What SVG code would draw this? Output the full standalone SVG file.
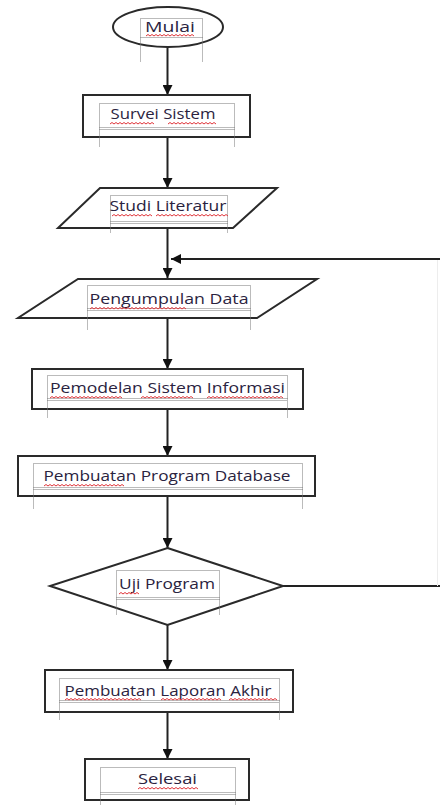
<svg xmlns="http://www.w3.org/2000/svg" width="440" height="805" viewBox="0 0 440 805">
<defs>
<marker id="ah" viewBox="0 0 10 10" refX="10" refY="5" markerWidth="10" markerHeight="10" markerUnits="userSpaceOnUse" orient="auto">
<path d="M0,0 L10,5 L0,10 z" fill="#111"/>
</marker>
<style>
.sh{fill:#fff;stroke:#2a2a2a;stroke-width:2}
.tb{fill:none;stroke:#777;stroke-width:1;stroke-dasharray:1,1}
.t{font-family:"Open Sans","Liberation Sans",Arial,sans-serif;font-size:15px;fill:#2a2340;text-anchor:middle}
.sq{fill:none;stroke:#e0353a;stroke-width:1}
.c{fill:none;stroke:#222;stroke-width:2}
</style>
</defs>
<rect width="440" height="805" fill="#fff"/>
<g id="connectors">
<path class="c" d="M167.5,47 V95" marker-end="url(#ah)"/>
<path class="c" d="M167.5,137 V188" marker-end="url(#ah)"/>
<path class="c" d="M167.5,228 V278" marker-end="url(#ah)"/>
<path class="c" d="M167.5,318 V369" marker-end="url(#ah)"/>
<path class="c" d="M167.5,409 V456" marker-end="url(#ah)"/>
<path class="c" d="M167.5,496 V548" marker-end="url(#ah)"/>
<path class="c" d="M167.5,625 V670" marker-end="url(#ah)"/>
<path class="c" d="M167.5,712 V759" marker-end="url(#ah)"/>
<path class="c" d="M283,586 H440"/>
<line x1="437.5" y1="259" x2="437.5" y2="586" stroke="#ededed" stroke-width="1"/>
<path class="c" d="M440,259 H171" marker-end="url(#ah)"/>
</g>
<g id="mulai">
<ellipse class="sh" cx="168" cy="27" rx="55" ry="20"/>
<path class="tb" d="M140.5,18.5 H202.5 V37.5 H140.5 Z M140.5,37.5 V62 M202.5,37.5 V62"/>
<text class="t" x="170" y="32" textLength="50" lengthAdjust="spacingAndGlyphs">Mulai</text>
<path class="sq" d="M146,36 l2,-1.5 l2,1.5 l2,-1.5 l2,1.5 l2,-1.5 l2,1.5 l2,-1.5 l2,1.5 l2,-1.5 l2,1.5 l2,-1.5 l2,1.5 l2,-1.5 l2,1.5 l2,-1.5 l2,1.5 l2,-1.5 l2,1.5 l2,-1.5 l2,1.5 l2,-1.5 l2,1.5 l2,-1.5 l2,1.5"/>
</g>
<g id="survei">
<rect class="sh" x="83" y="95" width="167" height="42"/>
<path class="tb" d="M99.5,103.5 H234.5 V127.5 H99.5 Z M99.5,129.5 H234.5 M99.5,127.5 V147 M234.5,127.5 V147"/>
<text class="t" x="163" y="119" textLength="105" lengthAdjust="spacingAndGlyphs">Survei Sistem</text>
<path class="sq" d="M110,124 l2,-1.5 l2,1.5 l2,-1.5 l2,1.5 l2,-1.5 l2,1.5 l2,-1.5 l2,1.5 l2,-1.5 l2,1.5 l2,-1.5 l2,1.5 l2,-1.5 l2,1.5 l2,-1.5 l2,1.5 l2,-1.5 l2,1.5 l2,-1.5 l2,1.5 l2,-1.5 l2,1.5 M168,124 l2,-1.5 l2,1.5 l2,-1.5 l2,1.5 l2,-1.5 l2,1.5 l2,-1.5 l2,1.5 l2,-1.5 l2,1.5 l2,-1.5 l2,1.5 l2,-1.5 l2,1.5 l2,-1.5 l2,1.5 l2,-1.5 l2,1.5 l2,-1.5 l2,1.5 l2,-1.5 l2,1.5 l2,-1.5 l2,1.5"/>
</g>
<g id="studi">
<polygon class="sh" points="100,188 277,188 233,228 58,228"/>
<path class="tb" d="M110.5,195.5 H227.5 V221.5 H110.5 Z M110.5,223.5 H227.5 M110.5,221.5 V233 M227.5,221.5 V233"/>
<text class="t" x="168" y="211" textLength="117" lengthAdjust="spacingAndGlyphs">Studi Literatur</text>
<path class="sq" d="M112,216 l2,-1.5 l2,1.5 l2,-1.5 l2,1.5 l2,-1.5 l2,1.5 l2,-1.5 l2,1.5 l2,-1.5 l2,1.5 l2,-1.5 l2,1.5 l2,-1.5 l2,1.5 l2,-1.5 l2,1.5 l2,-1.5 l2,1.5 l2,-1.5 l2,1.5 M156,216 l2,-1.5 l2,1.5 l2,-1.5 l2,1.5 l2,-1.5 l2,1.5 l2,-1.5 l2,1.5 l2,-1.5 l2,1.5 l2,-1.5 l2,1.5 l2,-1.5 l2,1.5 l2,-1.5 l2,1.5 l2,-1.5 l2,1.5 l2,-1.5 l2,1.5 l2,-1.5 l2,1.5 l2,-1.5 l2,1.5 l2,-1.5 l2,1.5 l2,-1.5 l2,1.5 l2,-1.5 l2,1.5 l2,-1.5 l2,1.5 l2,-1.5 l2,1.5 l2,-1.5 l2,1.5"/>
</g>
<g id="pengumpulan">
<polygon class="sh" points="78,279 317,279 257,318 18,318"/>
<path class="tb" d="M87.5,285.5 H250.5 V308.5 H87.5 Z M87.5,310.5 H250.5 M87.5,308.5 V330 M250.5,308.5 V330"/>
<text class="t" x="169" y="304" textLength="159" lengthAdjust="spacingAndGlyphs">Pengumpulan Data</text>
<path class="sq" d="M90,309 l2,-1.5 l2,1.5 l2,-1.5 l2,1.5 l2,-1.5 l2,1.5 l2,-1.5 l2,1.5 l2,-1.5 l2,1.5 l2,-1.5 l2,1.5 l2,-1.5 l2,1.5 l2,-1.5 l2,1.5 l2,-1.5 l2,1.5 l2,-1.5 l2,1.5 l2,-1.5 l2,1.5 l2,-1.5 l2,1.5 l2,-1.5 l2,1.5 l2,-1.5 l2,1.5 l2,-1.5 l2,1.5 l2,-1.5 l2,1.5 l2,-1.5 l2,1.5 l2,-1.5 l2,1.5 l2,-1.5 l2,1.5 l2,-1.5 l2,1.5 l2,-1.5 l2,1.5 l2,-1.5 l2,1.5 l2,-1.5 l2,1.5 l2,-1.5 l2,1.5"/>
</g>
<g id="pemodelan">
<rect class="sh" x="32" y="369" width="271" height="40"/>
<path class="tb" d="M47.5,375.5 H287.5 V398.5 H47.5 Z M47.5,400.5 H287.5 M47.5,398.5 V418 M287.5,398.5 V418"/>
<text class="t" x="167.5" y="393" textLength="235" lengthAdjust="spacingAndGlyphs">Pemodelan Sistem Informasi</text>
<path class="sq" d="M50,398 l2,-1.5 l2,1.5 l2,-1.5 l2,1.5 l2,-1.5 l2,1.5 l2,-1.5 l2,1.5 l2,-1.5 l2,1.5 l2,-1.5 l2,1.5 l2,-1.5 l2,1.5 l2,-1.5 l2,1.5 l2,-1.5 l2,1.5 l2,-1.5 l2,1.5 l2,-1.5 l2,1.5 l2,-1.5 l2,1.5 l2,-1.5 l2,1.5 l2,-1.5 l2,1.5 l2,-1.5 l2,1.5 l2,-1.5 l2,1.5 l2,-1.5 l2,1.5 l2,-1.5 l2,1.5 M141,398 l2,-1.5 l2,1.5 l2,-1.5 l2,1.5 l2,-1.5 l2,1.5 l2,-1.5 l2,1.5 l2,-1.5 l2,1.5 l2,-1.5 l2,1.5 l2,-1.5 l2,1.5 l2,-1.5 l2,1.5 l2,-1.5 l2,1.5 l2,-1.5 l2,1.5 l2,-1.5 l2,1.5 l2,-1.5 l2,1.5 l2,-1.5 l2,1.5 M207,398 l2,-1.5 l2,1.5 l2,-1.5 l2,1.5 l2,-1.5 l2,1.5 l2,-1.5 l2,1.5 l2,-1.5 l2,1.5 l2,-1.5 l2,1.5 l2,-1.5 l2,1.5 l2,-1.5 l2,1.5 l2,-1.5 l2,1.5 l2,-1.5 l2,1.5 l2,-1.5 l2,1.5 l2,-1.5 l2,1.5 l2,-1.5 l2,1.5 l2,-1.5 l2,1.5 l2,-1.5 l2,1.5 l2,-1.5 l2,1.5 l2,-1.5 l2,1.5 l2,-1.5 l2,1.5 l2,-1.5 l2,1.5"/>
</g>
<g id="pembuatan-program">
<rect class="sh" x="18" y="456" width="297" height="40"/>
<path class="tb" d="M33.5,463.5 H302.5 V487.5 H33.5 Z M33.5,489.5 H302.5 M33.5,487.5 V509 M302.5,487.5 V509"/>
<text class="t" x="167" y="481" textLength="247" lengthAdjust="spacingAndGlyphs">Pembuatan Program Database</text>
<path class="sq" d="M44,486 l2,-1.5 l2,1.5 l2,-1.5 l2,1.5 l2,-1.5 l2,1.5 l2,-1.5 l2,1.5 l2,-1.5 l2,1.5 l2,-1.5 l2,1.5 l2,-1.5 l2,1.5 l2,-1.5 l2,1.5 l2,-1.5 l2,1.5 l2,-1.5 l2,1.5 l2,-1.5 l2,1.5 l2,-1.5 l2,1.5 l2,-1.5 l2,1.5 l2,-1.5 l2,1.5 l2,-1.5 l2,1.5 l2,-1.5 l2,1.5 l2,-1.5 l2,1.5 l2,-1.5 l2,1.5 l2,-1.5 l2,1.5 l2,-1.5 l2,1.5"/>
</g>
<g id="uji">
<polygon class="sh" points="167.5,548 283,586 167.5,625 50,586"/>
<path class="tb" d="M116.5,570.5 H219.5 V597.5 H116.5 Z M116.5,599.5 H219.5 M116.5,597.5 V615 M219.5,597.5 V615"/>
<text class="t" x="167" y="589" textLength="96" lengthAdjust="spacingAndGlyphs">Uji Program</text>
<path class="sq" d="M119,594 l2,-1.5 l2,1.5 l2,-1.5 l2,1.5 l2,-1.5 l2,1.5 l2,-1.5 l2,1.5 l2,-1.5 l2,1.5"/>
</g>
<g id="pembuatan-laporan">
<rect class="sh" x="45" y="670" width="248" height="42"/>
<path class="tb" d="M59.5,678.5 H279.5 V700.5 H59.5 Z M59.5,702.5 H279.5 M59.5,700.5 V720 M279.5,700.5 V720"/>
<text class="t" x="168" y="696" textLength="207" lengthAdjust="spacingAndGlyphs">Pembuatan Laporan Akhir</text>
<path class="sq" d="M65,700 l2,-1.5 l2,1.5 l2,-1.5 l2,1.5 l2,-1.5 l2,1.5 l2,-1.5 l2,1.5 l2,-1.5 l2,1.5 l2,-1.5 l2,1.5 l2,-1.5 l2,1.5 l2,-1.5 l2,1.5 l2,-1.5 l2,1.5 l2,-1.5 l2,1.5 l2,-1.5 l2,1.5 l2,-1.5 l2,1.5 l2,-1.5 l2,1.5 l2,-1.5 l2,1.5 l2,-1.5 l2,1.5 l2,-1.5 l2,1.5 l2,-1.5 l2,1.5 l2,-1.5 l2,1.5 l2,-1.5 l2,1.5 M161,700 l2,-1.5 l2,1.5 l2,-1.5 l2,1.5 l2,-1.5 l2,1.5 l2,-1.5 l2,1.5 l2,-1.5 l2,1.5 l2,-1.5 l2,1.5 l2,-1.5 l2,1.5 l2,-1.5 l2,1.5 l2,-1.5 l2,1.5 l2,-1.5 l2,1.5 l2,-1.5 l2,1.5 l2,-1.5 l2,1.5 l2,-1.5 l2,1.5 l2,-1.5 l2,1.5 l2,-1.5 l2,1.5 M229,700 l2,-1.5 l2,1.5 l2,-1.5 l2,1.5 l2,-1.5 l2,1.5 l2,-1.5 l2,1.5 l2,-1.5 l2,1.5 l2,-1.5 l2,1.5 l2,-1.5 l2,1.5 l2,-1.5 l2,1.5 l2,-1.5 l2,1.5 l2,-1.5 l2,1.5 l2,-1.5 l2,1.5 l2,-1.5 l2,1.5"/>
</g>
<g id="selesai">
<rect class="sh" x="85" y="759" width="164" height="41"/>
<path class="tb" d="M100.5,767.5 H235.5 V792.5 H100.5 Z M100.5,794.5 H235.5 M100.5,792.5 V805 M235.5,792.5 V805"/>
<text class="t" x="167.5" y="784" textLength="59" lengthAdjust="spacingAndGlyphs">Selesai</text>
<path class="sq" d="M138,789 l2,-1.5 l2,1.5 l2,-1.5 l2,1.5 l2,-1.5 l2,1.5 l2,-1.5 l2,1.5 l2,-1.5 l2,1.5 l2,-1.5 l2,1.5 l2,-1.5 l2,1.5 l2,-1.5 l2,1.5 l2,-1.5 l2,1.5 l2,-1.5 l2,1.5 l2,-1.5 l2,1.5 l2,-1.5 l2,1.5 l2,-1.5 l2,1.5 l2,-1.5 l2,1.5 l2,-1.5 l2,1.5"/>
</g>
</svg>
